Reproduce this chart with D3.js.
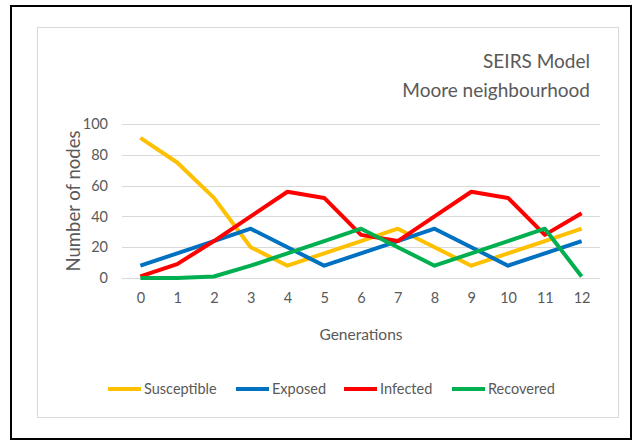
<!DOCTYPE html>
<html>
<head>
<meta charset="utf-8">
<script src="https://cdn.jsdelivr.net/npm/d3@7/dist/d3.min.js"></script>
<style>
  html, body { margin: 0; padding: 0; background: #fff; }
  svg { display: block; }
  text { font-family: Lato, "Open Sans", sans-serif; fill: #595959; }
</style>
</head>
<body>
<svg id="chart" width="643" height="444"></svg>
<script>
// Generations on the x axis
const generations = ["0","1","2","3","4","5","6","7","8","9","10","11","12"];
const yTicks = [0, 20, 40, 60, 80, 100];

// Node counts per compartment
const susceptible = [91, 75, 52, 20, 8, 16, 24, 32, 20, 8, 16, 24, 32];
const exposed     = [8, 16, 24, 32, 20, 8, 16, 24, 32, 20, 8, 16, 24];
const infected    = [1, 9, 24, 40, 56, 52, 28, 24, 40, 56, 52, 28, 42];
const recovered   = [0, 0, 1, 8, 16, 24, 32, 20, 8, 16, 24, 32, 1];

const seriesNames  = ["Susceptible", "Exposed", "Infected", "Recovered"];
const seriesColors = ["#FFC000", "#0070C0", "#FF0000", "#00B050"];
const seriesValues = [susceptible, exposed, infected, recovered];

const svg = d3.select("#chart");

// Frame
svg.append("rect").attr("x", 11).attr("y", 6).attr("width", 620).attr("height", 433)
  .attr("fill", "#fff").attr("stroke", "#000").attr("stroke-width", 2);
svg.append("rect").attr("x", 37.5).attr("y", 27.5).attr("width", 581).attr("height", 390)
  .attr("fill", "#fff").attr("stroke", "#d9d9d9").attr("stroke-width", 1);

const plot = { left: 122, right: 600, top: 124, bottom: 278 };

const x = d3.scalePoint().domain(generations)
  .range([plot.left, plot.right]).padding(0.5);
const y = d3.scaleLinear().domain([0, 100]).range([plot.bottom, plot.top]);

// Horizontal gridlines
svg.append("g").selectAll("line").data(yTicks).join("line")
  .attr("x1", plot.left).attr("x2", plot.right)
  .attr("y1", d => Math.round(y(d)) + 0.5).attr("y2", d => Math.round(y(d)) + 0.5)
  .attr("stroke", "#d9d9d9").attr("stroke-width", 1);

// Y axis labels
const yAxis = svg.append("g").attr("transform", `translate(${plot.left - 14},0)`)
  .call(d3.axisLeft(y).tickValues(yTicks).tickSize(0).tickPadding(0));
yAxis.select(".domain").remove();
yAxis.selectAll("text").attr("font-size", 14.5).attr("fill", "#595959")
  .attr("font-family", "Lato, sans-serif");

// X axis labels
const xAxis = svg.append("g").attr("transform", `translate(0,${plot.bottom + 15})`)
  .call(d3.axisBottom(x).tickSize(0).tickPadding(0));
xAxis.select(".domain").remove();
xAxis.selectAll("text").attr("font-size", 14.5).attr("fill", "#595959")
  .attr("font-family", "Lato, sans-serif");

// Axis titles
svg.append("text").attr("x", (plot.left + plot.right) / 2).attr("y", 340)
  .attr("text-anchor", "middle").attr("font-size", 15.5).text("Generations");
svg.append("text")
  .attr("transform", `translate(80,201) rotate(-90)`)
  .attr("text-anchor", "middle").attr("font-size", 18.5).text("Number of nodes");

// Chart title
svg.append("text").attr("x", 590).attr("y", 68).attr("text-anchor", "end")
  .attr("font-size", 19).text("SEIRS Model");
svg.append("text").attr("x", 590).attr("y", 97).attr("text-anchor", "end")
  .attr("font-size", 19).text("Moore neighbourhood");

// Series lines
const line = d3.line().x((d, i) => x(generations[i])).y(d => y(d));
svg.append("g").selectAll("path").data(seriesValues).join("path")
  .attr("d", d => line(d))
  .attr("fill", "none")
  .attr("stroke", (d, i) => seriesColors[i])
  .attr("stroke-width", 4)
  .attr("stroke-linejoin", "round");

// Legend
const legendX = [108, 236, 344, 452];
const lg = svg.append("g").selectAll("g").data(seriesNames).join("g")
  .attr("transform", (d, i) => `translate(${legendX[i]},389)`);
lg.append("line").attr("x1", 0).attr("x2", 33).attr("y1", 0).attr("y2", 0)
  .attr("stroke", (d, i) => seriesColors[i]).attr("stroke-width", 4);
lg.append("text").attr("x", 36).attr("y", 5).attr("font-size", 14.5).text(d => d);
</script>
</body>
</html>
